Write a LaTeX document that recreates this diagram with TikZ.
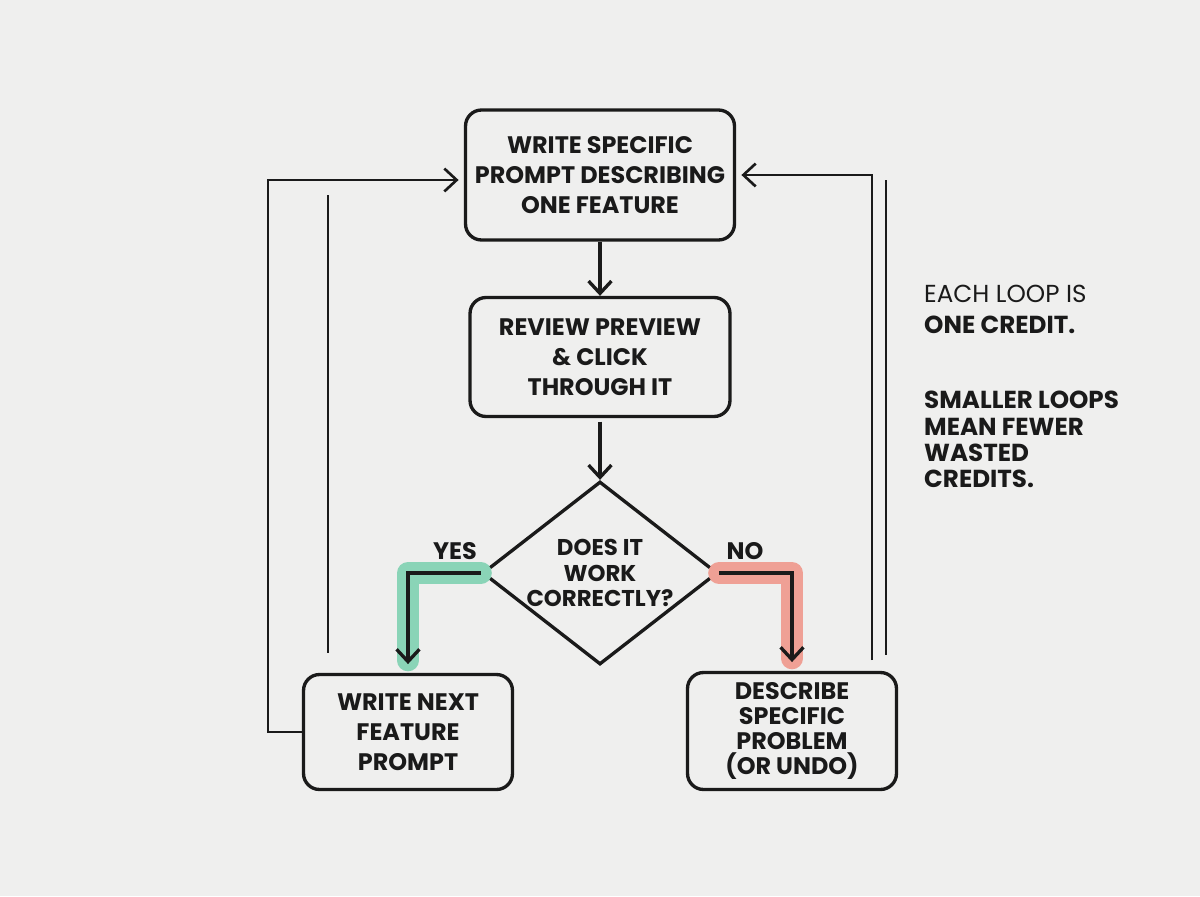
\documentclass[tikz,border=0pt]{standalone}
\usepackage{fontspec}
\setmainfont{Poppins}
\usetikzlibrary{arrows.meta,shapes.geometric}

\definecolor{paper}{HTML}{EFEFEE}
\definecolor{ink}{HTML}{1A1A1A}
\definecolor{yesgreen}{HTML}{8AD4B7}
\definecolor{nored}{HTML}{EFA095}

\begin{document}
\begin{tikzpicture}[x=0.02cm, y=-0.02cm,
  every node/.style = {align=center, text=ink,
    font=\bfseries\fontsize{13.6}{17}\selectfont},
  stepbox/.style = {shape=rectangle, rounded corners=0.32cm,
    draw=ink, line width=1.9pt, inner sep=0pt},
  decision/.style = {shape=diamond, aspect=1.2,
    draw=ink, line width=1.9pt, inner sep=-2pt},
  flow/.style = {draw=ink, line width=1.9pt,
    -{Straight Barb[length=7pt,width=13pt]}},
  loopline/.style = {draw=ink, line width=1.5pt,
    -{Straight Barb[length=7pt,width=13pt]}, shorten >=3pt},
  tally/.style = {draw=ink, line width=1.1pt},
  highlight/.style = {line width=12.5pt, line cap=round, line join=round}]

  \fill[paper] (0,0) rectangle (1200,896);
  \useasboundingbox (0,0) rectangle (1200,896);

  % main loop
  \node[stepbox, minimum width=5.38cm, minimum height=2.6cm] (prompt) at (600,175)
    {WRITE SPECIFIC\\PROMPT DESCRIBING\\ONE FEATURE};
  \node[stepbox, minimum width=5.2cm, minimum height=2.38cm] (review) at (600,357)
    {REVIEW PREVIEW\\\&\ CLICK\\THROUGH IT};
  \node[decision, minimum width=4.7cm, minimum height=3.66cm,
    font=\bfseries\fontsize{13}{14.4}\selectfont] (check) at (600,573)
    {DOES IT\\WORK\\CORRECTLY?};
  \node[stepbox, minimum width=4.18cm, minimum height=2.3cm] (next) at (408,732)
    {WRITE NEXT\\FEATURE\\PROMPT};
  \node[stepbox, minimum width=4.18cm, minimum height=2.34cm,
    font=\bfseries\fontsize{13.6}{14.3}\selectfont] (fix) at (792,731)
    {DESCRIBE\\SPECIFIC\\PROBLEM\\(OR UNDO)};

  \node (yes) at (455,551) {YES};
  \node (no) at (745,551) {NO};

  % branch highlights
  \draw[highlight, yesgreen] (check.west) -| ([yshift=0.25cm]next.north);
  \draw[highlight, nored] (check.east) -| ([yshift=0.25cm]fix.north);

  \draw[flow] (prompt) -- (review);
  \draw[flow, shorten <=2pt] (review) -- (check);
  \draw[flow, shorten >=5pt] (check.west) -| (next.north);
  \draw[flow, shorten >=5pt] (check.east) -| (fix.north);

  % going back up
  \coordinate (lcorner) at (268,180);
  \coordinate (rfoot) at (872,660);
  \draw[loopline] (next.west) -| (lcorner) -- (lcorner -| prompt.west);
  \draw[loopline] (rfoot) |- (prompt.east);

  \coordinate (ltop) at (328,195);
  \coordinate (lbot) at (328,653);
  \coordinate (rtop) at (886,180);
  \coordinate (rbot) at (886,655);
  \draw[tally] (ltop) -- (lbot);
  \draw[tally] (rtop) -- (rbot);

  % side note
  \node[anchor=north west, align=left, font=\fontsize{14}{17.6}\selectfont] (note1) at (918,279)
    {EACH LOOP IS\\\textbf{ONE CREDIT.}};
  \node[anchor=north west, align=left, font=\bfseries\fontsize{14}{15}\selectfont] (note2) at (918,385)
    {SMALLER LOOPS\\MEAN FEWER\\WASTED\\CREDITS.};
\end{tikzpicture}
\end{document}
